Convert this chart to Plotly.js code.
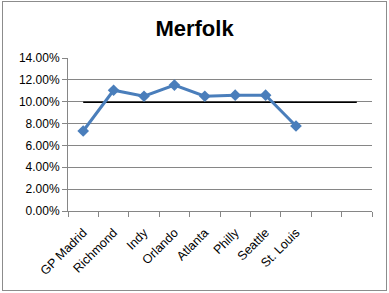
<!DOCTYPE html>
<html>
<head>
<meta charset="utf-8">
<script src="https://cdn.plot.ly/plotly-3.0.1.min.js"></script>
<style>
html,body{margin:0;padding:0;background:#fff;}
#wrap{position:relative;width:389px;height:293px;}
#chart{width:389px;height:293px;}
#frame{position:absolute;left:2px;top:1px;width:383px;height:288px;border:1px solid #8c8c8c;pointer-events:none;}
</style>
</head>
<body>
<div id="wrap"><div id="chart"></div><div id="frame"></div></div>
<script>
const categories = ["GP Madrid","Richmond","Indy","Orlando","Atlanta","Philly","Seattle","St. Louis"];
const slotCount = 10;
const merfolk = [0.0732, 0.1105, 0.105, 0.1152, 0.105, 0.106, 0.106, 0.0778];
const baseline = [0.0995,0.0995,0.0995,0.0995,0.0995,0.0995,0.0995,0.0995,0.0995,0.0995];
const yTicks = [0,0.02,0.04,0.06,0.08,0.10,0.12,0.14];

const idx = categories.map((_, i) => i);
const slots = baseline.map((_, i) => i);
const bounds = [];
for (let i = 0; i <= slotCount; i++) bounds.push(i - 0.5);

const yfont = {family: "Liberation Sans, Arial, sans-serif", size: 12, color: "#000"};
const xfont = {family: "Liberation Sans, Arial, sans-serif", size: 12.5, color: "#000"};

const data = [
  {x: slots, y: baseline, type: "scatter", mode: "lines",
   line: {color: "#000000", width: 1.3}, hoverinfo: "skip", showlegend: false},
  {x: idx, y: merfolk, type: "scatter", mode: "lines+markers",
   line: {color: "#4A7EBB", width: 3},
   marker: {symbol: "diamond", size: 9, color: "#4A7EBB"}, showlegend: false},
  {x: idx, y: merfolk, xaxis: "x2", type: "scatter", mode: "markers",
   marker: {opacity: 0}, hoverinfo: "skip", showlegend: false}
];

const layout = {
  width: 389, height: 293,
  margin: {l: 68, r: 17, t: 58, b: 82},
  paper_bgcolor: "#ffffff", plot_bgcolor: "#ffffff",
  font: yfont,
  title: {text: "<b>Merfolk</b>", x: 0.5, xanchor: "center", y: 0.905, yanchor: "middle",
          font: {family: "Liberation Sans, Arial, sans-serif", size: 22, color: "#000"}},
  xaxis: {range: [-0.5, slotCount - 0.5], tickmode: "array", tickvals: bounds,
          ticktext: bounds.map(() => ""), ticks: "outside", ticklen: 5, tickcolor: "#868686",
          showgrid: false, zeroline: false, showline: true, linecolor: "#868686", linewidth: 1,
          fixedrange: true},
  xaxis2: {range: [-0.5, slotCount - 0.5], overlaying: "x", side: "bottom", anchor: "y",
           tickmode: "array", tickvals: idx, ticktext: categories, tickangle: -45,
           ticks: "", showgrid: false, zeroline: false, showline: false, ticklabelstandoff: 11,
           tickfont: xfont},
  yaxis: {range: [0, 0.14], tickmode: "array", tickvals: yTicks, tickformat: ".2%",
          ticks: "outside", ticklen: 5, tickcolor: "#868686",
          showgrid: true, gridcolor: "#868686", gridwidth: 1, zeroline: false,
          showline: true, linecolor: "#868686", linewidth: 1, tickfont: yfont}
};

Plotly.newPlot("chart", data, layout, {displayModeBar: false, staticPlot: true});
</script>
</body>
</html>
